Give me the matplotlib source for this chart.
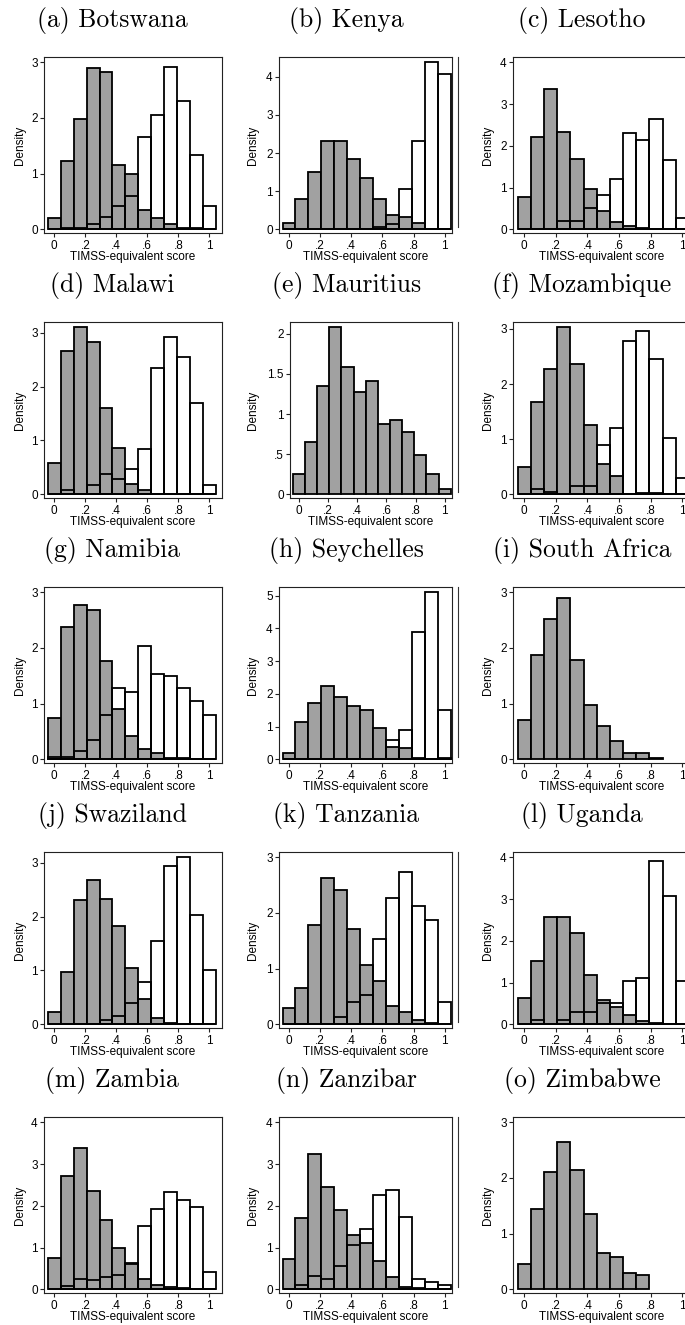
import matplotlib.pyplot as plt
import numpy as np
from matplotlib.lines import Line2D

# bin heights (density), bins of width 1/12 centred on 0, 1/12, ..., 1
botswana_grey = [0.2, 1.23, 1.98, 2.89, 2.82, 1.16, 1.0, 0.35, 0.2, 0.1, 0.02, 0.02, 0]
botswana_white = [0, 0.02, 0.03, 0.1, 0.22, 0.42, 0.6, 1.65, 2.05, 2.92, 2.3, 1.34, 0.41]
kenya_grey = [0.17, 0.8, 1.5, 2.32, 2.32, 1.85, 1.35, 0.8, 0.37, 0.33, 0.17, 0.02, 0]
kenya_white = [0, 0, 0, 0, 0, 0, 0, 0.05, 0.13, 1.05, 2.32, 4.38, 4.07]
lesotho_grey = [0.77, 2.2, 3.35, 2.32, 1.68, 0.96, 0.43, 0.17, 0.08, 0.02, 0, 0, 0]
lesotho_white = [0, 0, 0, 0.2, 0.2, 0.52, 0.83, 1.2, 2.3, 2.15, 2.65, 1.67, 0.27]
malawi_grey = [0.58, 2.66, 3.1, 2.83, 1.61, 0.86, 0.2, 0.08, 0, 0, 0, 0, 0]
malawi_white = [0, 0.08, 0, 0.18, 0.38, 0.28, 0.47, 0.85, 2.35, 2.92, 2.55, 1.7, 0.18]
mauritius_grey = [0.25, 0.65, 1.35, 2.08, 1.58, 1.27, 1.41, 0.88, 0.92, 0.78, 0.49, 0.25, 0.07]
mauritius_white = []
mozambique_grey = [0.5, 1.68, 2.27, 3.03, 2.37, 1.26, 0.55, 0.33, 0, 0.02, 0.02, 0, 0]
mozambique_white = [0, 0.1, 0.05, 0, 0.15, 0.15, 0.9, 1.2, 2.78, 2.97, 2.45, 1.02, 0.29]
namibia_grey = [0.74, 2.38, 2.77, 2.68, 1.77, 0.9, 0.42, 0.18, 0.12, 0.02, 0.02, 0, 0]
namibia_white = [0.05, 0.05, 0.15, 0.34, 0.79, 1.28, 1.21, 2.03, 1.54, 1.5, 1.28, 1.05, 0.79]
seychelles_grey = [0.2, 1.13, 1.73, 2.25, 1.9, 1.62, 1.5, 0.95, 0.37, 0.33, 0.05, 0, 0.05]
seychelles_white = [0, 0, 0, 0, 0, 0, 0, 0, 0.6, 0.9, 3.9, 5.1, 1.5]
southafrica_grey = [0.71, 1.88, 2.52, 2.9, 1.78, 0.98, 0.6, 0.33, 0.12, 0.12, 0.03]
southafrica_white = []
swaziland_grey = [0.22, 0.98, 2.3, 2.68, 2.33, 1.83, 1.04, 0.47, 0.12, 0.03, 0, 0, 0]
swaziland_white = [0, 0, 0, 0, 0.08, 0.15, 0.4, 0.78, 1.55, 2.94, 3.1, 2.02, 1.01]
tanzania_grey = [0.3, 0.66, 1.78, 2.62, 2.42, 1.72, 1.07, 0.78, 0.33, 0.22, 0.07, 0.02, 0]
tanzania_white = [0, 0, 0, 0, 0.13, 0.4, 0.53, 1.53, 2.27, 2.73, 2.13, 1.87, 0.4]
uganda_grey = [0.62, 1.52, 2.58, 2.56, 2.18, 1.17, 0.58, 0.42, 0.22, 0.08, 0.04, 0, 0]
uganda_white = [0, 0.1, 0, 0.1, 0.3, 0.3, 0.52, 0.5, 1.03, 1.12, 3.9, 3.08, 1.03]
zambia_grey = [0.75, 2.72, 3.38, 2.35, 1.65, 1.0, 0.6, 0.25, 0.1, 0.05, 0.02, 0, 0]
zambia_white = [0, 0.08, 0.25, 0.22, 0.3, 0.35, 0.62, 1.52, 1.92, 2.32, 2.15, 1.97, 0.42]
zanzibar_grey = [0.72, 1.7, 3.25, 2.45, 1.9, 1.3, 1.12, 0.68, 0.3, 0.05, 0.02, 0, 0]
zanzibar_white = [0, 0.1, 0.32, 0.25, 0.55, 1.05, 1.45, 2.25, 2.38, 1.72, 0.25, 0.18, 0.1]
zimbabwe_grey = [0.45, 1.45, 2.1, 2.65, 2.15, 1.35, 0.65, 0.58, 0.3, 0.25]
zimbabwe_white = []

titles = ['(a) Botswana', '(b) Kenya', '(c) Lesotho', '(d) Malawi', '(e) Mauritius',
          '(f) Mozambique', '(g) Namibia', '(h) Seychelles', '(i) South Africa',
          '(j) Swaziland', '(k) Tanzania', '(l) Uganda', '(m) Zambia',
          '(n) Zanzibar', '(o) Zimbabwe']
grey_bars = [botswana_grey, kenya_grey, lesotho_grey, malawi_grey, mauritius_grey,
             mozambique_grey, namibia_grey, seychelles_grey, southafrica_grey,
             swaziland_grey, tanzania_grey, uganda_grey, zambia_grey,
             zanzibar_grey, zimbabwe_grey]
white_bars = [botswana_white, kenya_white, lesotho_white, malawi_white, mauritius_white,
              mozambique_white, namibia_white, seychelles_white, southafrica_white,
              swaziland_white, tanzania_white, uganda_white, zambia_white,
              zanzibar_white, zimbabwe_white]
y_ticks = [[0, 1, 2, 3], [0, 1, 2, 3, 4], [0, 1, 2, 3, 4], [0, 1, 2, 3],
           [0, 0.5, 1, 1.5, 2], [0, 1, 2, 3], [0, 1, 2, 3], [0, 1, 2, 3, 4, 5],
           [0, 1, 2, 3], [0, 1, 2, 3], [0, 1, 2, 3], [0, 1, 2, 3, 4],
           [0, 1, 2, 3, 4], [0, 1, 2, 3, 4], [0, 1, 2, 3]]
x_ticks = [0, 0.2, 0.4, 0.6, 0.8, 1]

W, H = 685, 1325
GREY = '#a1a1a1'
SANS = 'Liberation Sans'
FS = 8.5
BW = 1 / 12

# frame left, pixel of x=0, pixel of x=1, frame right
col_px = [(44, 54.3, 209.3, 222), (279, 289, 444.7, 452), (513, 524.3, 682.3, 690)]
wide_label_px = (290, 299, 444.7, 452)
title_x = [112, 346.5, 582]
ylab_x = [20, 253, 488]
ROW = 265


def stata_fmt(v):
    s = '%g' % v
    if s.startswith('0.'):
        s = s[1:]
    return s


fig = plt.figure(figsize=(W / 100, H / 100), dpi=100)

for i, title in enumerate(titles):
    r, c = divmod(i, 3)
    left, x0, x1, right = col_px[c]
    if any(t % 1 for t in y_ticks[i]):
        left, x0, x1, right = wide_label_px
    top = 57 + ROW * r
    bottom = 233 + ROW * r

    ax = fig.add_axes([left / W, 1 - bottom / H, (right - left) / W, (bottom - top) / H])

    g = grey_bars[i]
    ax.bar(np.arange(len(g)) * BW, g, width=BW, color=GREY, edgecolor='black',
           linewidth=1.3, zorder=2)
    wb = white_bars[i]
    if wb:
        ax.bar(np.arange(len(wb)) * BW, wb, width=BW, fill=False, edgecolor='black',
               linewidth=1.3, zorder=3)

    sx = x1 - x0
    ax.set_xlim((left - x0) / sx, (right - x0) / sx)
    ytop = max(max(g), max(wb) if wb else 0, y_ticks[i][-1])
    sy = 167 / ytop
    ax.set_ylim(-3.7 / sy, ytop + 5.3 / sy)

    ax.set_xticks(x_ticks)
    ax.set_xticklabels([stata_fmt(v) for v in x_ticks], fontsize=FS, family=SANS)
    ax.set_yticks(y_ticks[i])
    ax.set_yticklabels([stata_fmt(v) for v in y_ticks[i]], fontsize=FS, family=SANS)
    ax.tick_params(axis='both', length=3, width=0.8, color='#222222')
    ax.tick_params(axis='x', pad=2)
    ax.tick_params(axis='y', pad=1.5)
    for sp in ax.spines.values():
        sp.set_linewidth(0.8)
        sp.set_color('#222222')

    fig.text(title_x[c] / W, 1 - (27 + ROW * r) / H, title, family='cmr10',
             fontsize=18.5, ha='center', va='baseline')
    fig.text(ylab_x[c] / W, 1 - (145 + ROW * r) / H, 'Density', family=SANS,
             fontsize=FS, rotation=90, ha='center', va='center')
    fig.text((left + right) / 2 / W, 1 - (257 + ROW * r) / H, 'TIMSS-equivalent score',
             family=SANS, fontsize=FS, ha='center', va='center')

    # thin edge line left of the third column
    if c == 2:
        fig.add_artist(Line2D([458 / W, 458 / W], [1 - top / H, 1 - (227 + ROW * r) / H],
                              transform=fig.transFigure, color='#333333', linewidth=0.8))

fig.savefig('out.png', dpi=100)
